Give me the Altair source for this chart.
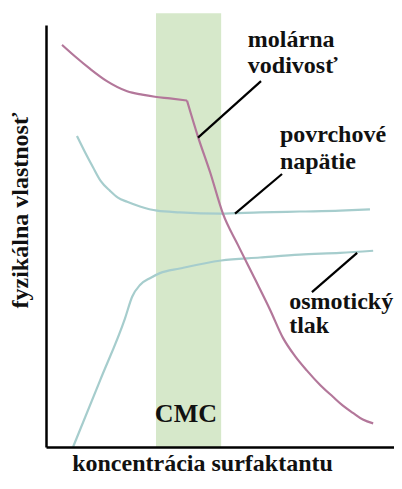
import altair as alt
import pandas as pd

# --- data (arbitrary units: concentration 0-100, property 0-100) ---
# molar conductivity: smooth part before the CMC break, then the steep part after it
cond_x_before = [4.5, 8.1, 12.4, 17.1, 22.8, 27.0, 30.6, 34.8, 39.6]
cond_y_before = [95.3, 92.6, 89.6, 86.7, 84.3, 83.5, 83.0, 82.6, 82.1]
cond_x_after = [39.6, 42.7, 46.1, 49.7, 53.9, 58.7, 62.9, 66.6, 69.9, 73.3, 77.0, 80.6, 83.4, 86.2, 89.0, 91.9]
cond_y_after = [82.1, 73.5, 65.1, 55.3, 47.9, 39.8, 32.6, 25.8, 21.6, 18.1, 14.7, 11.9, 9.8, 8.1, 6.5, 5.6]

surf_x = [8.7, 11.0, 13.2, 15.4, 18.0, 20.2, 22.8, 26.4, 31.2, 37.6, 48.9, 60.1, 71.3, 82.6, 91.0]
surf_y = [73.7, 69.8, 66.3, 63.0, 60.7, 59.1, 58.1, 57.0, 56.0, 55.6, 55.3, 55.6, 55.8, 56.0, 56.3]

osm_x = [7.6, 15.2, 22.2, 24.2, 26.4, 29.2, 32.0, 37.6, 49.2, 60.1, 71.3, 82.6, 91.9]
osm_y = [0.0, 15.8, 30.5, 35.6, 38.4, 40.0, 41.2, 42.3, 44.2, 44.9, 45.6, 46.0, 46.5]

cmc_from, cmc_to, cmc_top = 30.9, 49.2, 102.8

leader_x1 = [42.7, 53.1, 74.7]
leader_y1 = [73.3, 55.3, 36.7]
leader_x2 = [60.4, 66.3, 87.4]
leader_y2 = [86.7, 64.7, 46.0]

label_text = ["molárna", "vodivosť", "povrchové", "napätie", "osmotický", "tlak"]
label_x = [56.7, 56.7, 65.7, 65.7, 68.3, 68.3]
label_y = [94.9, 88.6, 72.3, 65.8, 32.8, 27.0]

cmc_label = "CMC"
cmc_label_x = 39.3
cmc_label_y = 6.0

MAGENTA = "#b3779a"
TEAL = "#a6cdcd"
GREEN = "#d6e8ca"
FONT = "Liberation Serif, Times New Roman, Times, DejaVu Serif, serif"

xs = alt.Scale(domain=[0, 97.75], nice=False, zero=False)
ys = alt.Scale(domain=[0, 100], nice=False, zero=False)

band_df = pd.DataFrame({"x": [cmc_from], "x2": [cmc_to], "y": [0.0], "y2": [cmc_top]})
band = alt.Chart(band_df).mark_rect(color=GREEN).encode(
    x=alt.X("x:Q", scale=xs, axis=alt.Axis(
        title="koncentrácia surfaktantu", ticks=False, labels=False, grid=False,
        domainColor="black", domainWidth=2.5, zindex=1,
        titleFont=FONT, titleFontSize=24, titleFontWeight="bold", titleColor="#111",
        titleX=156, titleY=23, titleBaseline="alphabetic", titleAlign="center")),
    x2="x2:Q",
    y=alt.Y("y:Q", scale=ys, axis=alt.Axis(
        title="fyzikálna vlastnosť", ticks=False, labels=False, grid=False,
        domainColor="black", domainWidth=2.5, zindex=1,
        titleFont=FONT, titleFontSize=24, titleFontWeight="bold", titleColor="#111",
        titleAngle=270, titleX=-19, titleY=185, titleBaseline="alphabetic", titleAlign="center")),
    y2="y2:Q",
)

surf_df = pd.DataFrame({"x": surf_x, "y": surf_y})
osm_df = pd.DataFrame({"x": osm_x, "y": osm_y})
cond_df = pd.concat([
    pd.DataFrame({"x": cond_x_before, "y": cond_y_before, "seg": "before"}),
    pd.DataFrame({"x": cond_x_after, "y": cond_y_after, "seg": "after"}),
], ignore_index=True)

surf = alt.Chart(surf_df).mark_line(color=TEAL, strokeWidth=2.2, interpolate="monotone").encode(
    x=alt.X("x:Q", scale=xs), y=alt.Y("y:Q", scale=ys))
osm = alt.Chart(osm_df).mark_line(color=TEAL, strokeWidth=2.2, interpolate="monotone").encode(
    x=alt.X("x:Q", scale=xs), y=alt.Y("y:Q", scale=ys))
cond = alt.Chart(cond_df).mark_line(color=MAGENTA, strokeWidth=2.2, interpolate="monotone").encode(
    x=alt.X("x:Q", scale=xs), y=alt.Y("y:Q", scale=ys), detail="seg:N")

lead_df = pd.DataFrame({"x": leader_x1, "y": leader_y1, "x2": leader_x2, "y2": leader_y2})
leaders = alt.Chart(lead_df).mark_rule(color="black", strokeWidth=2.2).encode(
    x=alt.X("x:Q", scale=xs), y=alt.Y("y:Q", scale=ys), x2="x2:Q", y2="y2:Q")

lab_df = pd.DataFrame({"t": label_text, "x": label_x, "y": label_y})
labels = alt.Chart(lab_df).mark_text(
    align="left", baseline="alphabetic", font=FONT, fontSize=24, fontWeight="bold", color="#111"
).encode(x=alt.X("x:Q", scale=xs), y=alt.Y("y:Q", scale=ys), text="t:N")

cmc_df = pd.DataFrame({"t": [cmc_label], "x": [cmc_label_x], "y": [cmc_label_y]})
cmc_text = alt.Chart(cmc_df).mark_text(
    align="center", baseline="alphabetic", font=FONT, fontSize=26, fontWeight="bold", color="#111"
).encode(x=alt.X("x:Q", scale=xs), y=alt.Y("y:Q", scale=ys), text="t:N")

chart = alt.layer(band, surf, osm, cond, leaders, labels, cmc_text).properties(
    width=348, height=422,
    padding={"left": 38, "top": 17, "right": 0, "bottom": 28},
    autosize=alt.AutoSizeParams(type="none"),
).configure_view(stroke=None)

chart.save("out.html", embed_options={"renderer": "svg", "actions": False})
